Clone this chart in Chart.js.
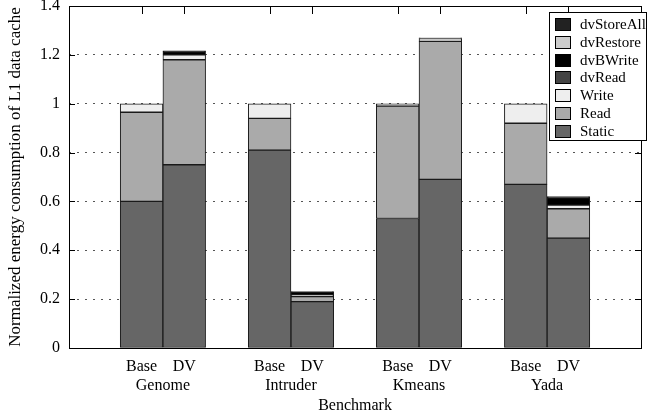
<!DOCTYPE html>
<html>
<head>
<meta charset="utf-8">
<script src="https://cdn.jsdelivr.net/npm/chart.js@4"></script>
<style>
html,body{margin:0;padding:0;background:#fff;}
</style>
</head>
<body>
<canvas id="chart" width="657" height="417"></canvas>
<script>
const groups=["Genome","Intruder","Kmeans","Yada"];
const variants=["Base","DV"];
const parts=["Static","Read","Write","dvRead","dvBWrite","dvRestore","dvStoreAll"];
const partColors=["#666666","#aaaaaa","#eeeeee","#444444","#000000","#cccccc","#222222"];

// bar order: Genome Base, Genome DV, Intruder Base, Intruder DV, Kmeans Base, Kmeans DV, Yada Base, Yada DV
const staticE    =[0.60,0.75,0.81,0.19,0.53,0.69,0.67,0.45];
const readE      =[0.365,0.43,0.13,0.02,0.46,0.565,0.25,0.12];
const writeE     =[0.035,0.02,0.06,0.008,0.01,0.012,0.08,0.015];
const dvReadE    =[0,0,0,0,0,0,0,0];
const dvBWriteE  =[0,0.012,0,0.01,0,0,0,0.03];
const dvRestoreE =[0,0,0,0,0,0.003,0,0];
const dvStoreAllE=[0,0.004,0,0.003,0,0,0,0.005];
const series=[staticE,readE,writeE,dvReadE,dvBWriteE,dvRestoreE,dvStoreAllE];

const yTicks=[0,0.2,0.4,0.6,0.8,1,1.2,1.4];

const FONT="'Liberation Serif','Times New Roman',serif";

// each group: Base, DV, then an empty slot
function barPos(i){return Math.floor(i/2)*3+1+i%2;}
const barX=staticE.map((_,i)=>barPos(i));
const groupX=groups.map((_,g)=>g*3+1.5);

const datasets=parts.map((p,k)=>({
  label:p,
  data:series[k].map((v,i)=>({x:barX[i],y:v?v:null})),
  backgroundColor:partColors[k],
  borderColor:"#1a1a1a",
  borderWidth:1,
  borderSkipped:false,
  categoryPercentage:1,
  barPercentage:1
}));

const framePlugin={
  id:"frame",
  afterDraw(chart){
    const ctx=chart.ctx,a=chart.chartArea,y=chart.scales.y,x=chart.scales.x;
    ctx.save();
    ctx.strokeStyle="#000";
    ctx.lineWidth=1;
    ctx.beginPath();
    yTicks.forEach(v=>{
      const py=Math.round(y.getPixelForValue(v))+0.5;
      ctx.moveTo(a.left,py);ctx.lineTo(a.left+6,py);
      ctx.moveTo(a.right,py);ctx.lineTo(a.right-6,py);
    });
    barX.forEach(v=>{
      const px=Math.round(x.getPixelForValue(v))+0.5;
      ctx.moveTo(px,a.top);ctx.lineTo(px,a.top+8);
    });
    ctx.stroke();
    ctx.strokeRect(Math.round(a.left)+0.5,Math.round(a.top)+0.5,Math.round(a.right-a.left),Math.round(a.bottom-a.top));

    // legend box
    const lx=549,ly=12,lw=97,lh=128;
    ctx.fillStyle="#fff";
    ctx.fillRect(lx,ly,lw,lh);
    ctx.strokeRect(lx+0.5,ly+0.5,lw,lh);
    ctx.font="15px "+FONT;
    ctx.textBaseline="middle";
    ctx.textAlign="left";
    const items=parts.map((p,k)=>k).reverse();
    items.forEach((k,r)=>{
      const cy=ly+12+r*17.8;
      ctx.fillStyle=partColors[k];
      ctx.fillRect(lx+6,Math.round(cy-6),15,12);
      ctx.strokeStyle="#000";
      ctx.strokeRect(lx+6.5,Math.round(cy-6)+0.5,15,12);
      ctx.fillStyle="#000";
      ctx.fillText(parts[k],lx+31,cy+1);
    });
    ctx.restore();
  }
};

new Chart(document.getElementById("chart"),{
  type:"bar",
  data:{datasets},
  plugins:[framePlugin],
  options:{
    responsive:false,
    animation:false,
    devicePixelRatio:1,
    layout:{padding:{top:6,right:16,left:0,bottom:0}},
    plugins:{legend:{display:false},tooltip:{enabled:false}},
    scales:{
      x:{
        type:"linear",stacked:true,min:-0.7,max:12.7,offset:false,
        afterBuildTicks:s=>{s.ticks=barX.map(v=>({value:v}));},
        afterFit:s=>{s.height=25;s.paddingLeft=0;s.paddingRight=0;},
        ticks:{autoSkip:false,maxRotation:0,padding:9,color:"#000",font:{family:FONT,size:16},
          callback:(v,i)=>variants[i%2]},
        grid:{display:false,drawTicks:false},
        border:{display:false}
      },
      x2:{
        type:"linear",position:"bottom",min:-0.7,max:12.7,offset:false,
        afterBuildTicks:s=>{s.ticks=groupX.map(v=>({value:v}));},
        afterFit:s=>{s.height=44;s.paddingLeft=0;s.paddingRight=0;},
        ticks:{autoSkip:false,maxRotation:0,padding:3,color:"#000",font:{family:FONT,size:16},
          callback:(v,i)=>groups[i]},
        grid:{display:false,drawTicks:false},
        border:{display:false},
        title:{display:true,text:"Benchmark",color:"#000",font:{family:FONT,size:16},padding:{top:0,bottom:2}}
      },
      y:{
        stacked:true,min:0,max:1.4,
        afterBuildTicks:s=>{s.ticks=yTicks.map(v=>({value:v}));},
        afterFit:s=>{s.width=69;s.paddingTop=0;s.paddingBottom=0;},
        ticks:{padding:9,color:"#000",font:{family:FONT,size:16},callback:v=>String(+v.toFixed(1))},
        grid:{color:"#555",drawTicks:false,lineWidth:1},
        border:{display:false,dash:[2,6]},
        title:{display:true,text:"Normalized energy consumption of L1 data cache",color:"#000",
          font:{family:FONT,size:17},padding:{top:5,bottom:0}}
      }
    }
  }
});
</script>
</body>
</html>
